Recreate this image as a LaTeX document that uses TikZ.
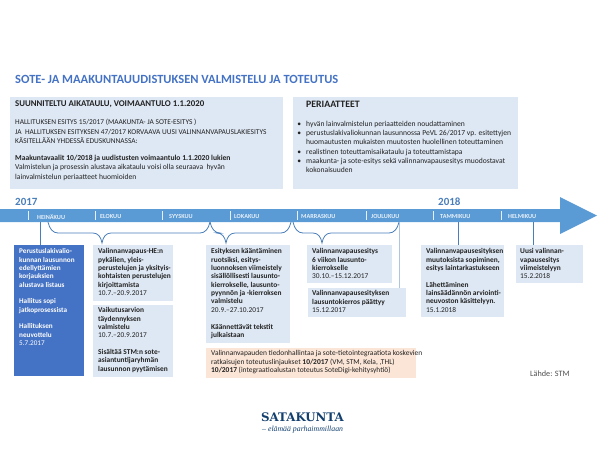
\documentclass[tikz,border=0pt]{standalone}
\usepackage{fontspec}
\setmainfont{Carlito}
\newfontfamily\logofont{DejaVu Serif}
\newfontfamily\taglinefont{Liberation Serif}
\definecolor{TitleBlue}{HTML}{4472C4}
\definecolor{ArrowBlue}{HTML}{5B9BD5}
\definecolor{BoxBlue}{HTML}{DEE8F4}
\definecolor{BoxOrange}{HTML}{FBE5D6}
\definecolor{BraceBlue}{HTML}{4A7EBB}
\definecolor{LogoNavy}{HTML}{123F6D}
\definecolor{BodyText}{HTML}{222222}
\tikzset{
	boxfill/.style={anchor=north west, inner sep=0pt, fill=BoxBlue},
	boxtext/.style={anchor=north west, inner sep=0pt, align=left, text=BodyText, font=\fontsize{7.4}{8.35}\selectfont},
	monthlabel/.style={anchor=west, inner sep=0pt, text=white!85!ArrowBlue, font=\fontsize{6.2}{7}\selectfont\bfseries},
	yearlabel/.style={anchor=west, inner sep=0pt, text=BraceBlue, font=\fontsize{11}{12}\selectfont\bfseries},
	stemline/.style={BraceBlue, line width=1pt}
}
\begin{document}
\begin{tikzpicture}[x=1pt,y=1pt,yscale=-1,xscale=1]
		\useasboundingbox (0,0) rectangle (600,450);

		% Title
		\node[anchor=west, inner sep=0pt, text=TitleBlue, font=\fontsize{12.5}{14}\selectfont\bfseries] (title) at (15,79) {SOTE- JA MAAKUNTAUUDISTUKSEN VALMISTELU JA TOTEUTUS};

		% Upper boxes
		\node[boxfill, minimum width=273pt, minimum height=92pt] (schedule) at (10,97) {};
		\node[boxfill, minimum width=225pt, minimum height=92pt] (principles) at (293,97) {};

		\node[boxtext, font=\fontsize{8.8}{10}\selectfont\bfseries] (scheduletitle) at (15,100.5) {SUUNNITELTU AIKATAULU, VOIMAANTULO 1.1.2020};
		\node[boxtext, font=\fontsize{7.4}{9.2}\selectfont] (scheduletext) at (15,119.2) {HALLITUKSEN ESITYS 15/2017 (MAAKUNTA- JA SOTE-ESITYS )\\
			JA~ HALLITUKSEN ESITYKSEN 47/2017 KORVAAVA UUSI VALINNANVAPAUSLAKIESITYS\\
			KÄSITELLÄÄN YHDESSÄ EDUSKUNNASSA:};
		\node[boxtext, font=\fontsize{7.6}{9.3}\selectfont] (schedulenote) at (15,155) {\textbf{Maakuntavaalit 10/2018 ja uudistusten voimaantulo 1.1.2020 lukien}\\
			Valmistelun ja prosessin alustava aikataulu voisi olla seuraava~ hyvän\\
			lainvalmistelun periaatteet huomioiden};

		\node[boxtext, font=\fontsize{9.8}{10}\selectfont\bfseries] (principlestitle) at (306,101) {PERIAATTEET};
		\node[boxtext, font=\fontsize{7.6}{9.25}\selectfont] (principlestext) at (306,121) {\llap{\textbullet\hspace{5pt}}hyvän lainvalmistelun periaatteiden noudattaminen\\
			\llap{\textbullet\hspace{5pt}}perustuslakivaliokunnan lausunnossa PeVL 26/2017 vp. esitettyjen\\
			huomautusten mukaisten muutosten huolellinen toteuttaminen\\
			\llap{\textbullet\hspace{5pt}}realistinen toteuttamisaikataulu ja toteuttamistapa\\
			\llap{\textbullet\hspace{5pt}}maakunta- ja sote-esitys sekä valinnanvapausesitys muodostavat\\
			kokonaisuuden};

		% Timeline arrow
		\fill[ArrowBlue] (0,209) -- (560,209) -- (560,197) -- (597,215.5) -- (560,234) -- (560,222) -- (0,222) -- cycle;

		\node[yearlabel] (year2017) at (15,202) {2017};
		\node[yearlabel] (year2018) at (438,202) {2018};

		% Months with their ticks
		\foreach \tickx/\labelx/\month in {28/37/HEINÄKUU, 95/100/ELOKUU, 162/169/SYYSKUU, 230/234/LOKAKUU, 297/301/MARRASKUU, 366/371/JOULUKUU, 433/440/TAMMIKUU, 501/508/HELMIKUU} {
			\draw[white!85!ArrowBlue, line width=1pt] (\tickx,211) -- (\tickx,220);
			\node[monthlabel] (\month) at (\labelx,216.5) {\month};
		}

		% Boxes below the timeline
		\node[boxfill, fill=TitleBlue, minimum width=69.5pt, minimum height=131pt] (hallitus) at (14,245) {};
		\node[boxfill, minimum width=80pt, minimum height=55.5pt] (pykalat) at (93,245) {};
		\node[boxfill, minimum width=80pt, minimum height=72pt] (vaikutus) at (93,305) {};
		\node[boxfill, minimum width=84pt, minimum height=98pt] (kaannos) at (206,245) {};
		\node[boxfill, minimum width=85pt, minimum height=38pt] (kierros) at (307,245) {};
		\node[boxfill, minimum width=98pt, minimum height=29pt] (paattyy) at (308,288) {};
		\node[boxfill, minimum width=83pt, minimum height=72pt] (muutokset) at (421,245) {};
		\node[boxfill, minimum width=67pt, minimum height=38pt] (viimeistely) at (516,245) {};
		\node[boxfill, fill=BoxOrange, minimum width=210pt, minimum height=30pt] (tiedonhallinta) at (206,348) {};

		% Braces from the timeline to the boxes
		\foreach \from/\tip/\to in {48/102/210, 210/226/291, 293/322/399} {
			\draw[BraceBlue, line width=0.8pt] (\from,222) .. controls (\from+1.5,229) and (\from+5,233) .. (\from+10,233) -- (\tip-9,233) .. controls (\tip-4,233) and (\tip-1,237) .. (\tip,243) .. controls (\tip+1,237) and (\tip+4,233) .. (\tip+9,233) -- (\to-10,233) .. controls (\to-5,233) and (\to-1.5,229) .. (\to,222);
		}

		% Straight stems
		\coordinate (stemheina) at (40,222);
		\coordinate (stemjoulu) at (399,222);
		\coordinate (stemtammi) at (458,222);
		\coordinate (stemhelmi) at (533,222);
		\draw[stemline] (stemheina) -- (stemheina |- hallitus.north);
		\draw[stemline, line width=0.6pt, BraceBlue!45] (stemjoulu) -- (stemjoulu |- paattyy.north);
		\draw[stemline] (stemtammi) -- (stemtammi |- muutokset.north);
		\draw[stemline] (stemhelmi) -- (stemhelmi |- viimeistely.north);

		% Box texts
		\node[boxtext, text=white, font=\fontsize{7.2}{8.35}\selectfont\bfseries] (hallitustext) at (19,248.5) {Perustuslakivalio-\\kunnan lausunnon\\edellyttämien\\korjauksien\\alustava listaus\\[8.35pt]Hallitus sopi\\jatkoprosessista\\[8.35pt]Hallituksen\\neuvottelu\\\mdseries 5.7.2017};
		\node[boxtext] (pykalattext) at (98,248.5) {\textbf{Valinnanvapaus-HE:n}\\\textbf{pykälien, yleis-}\\\textbf{perustelujen ja yksityis-}\\\textbf{kohtaisten perustelujen}\\\textbf{kirjoittamista}\\10.7.–20.9.2017};
		\node[boxtext] (vaikutustext) at (98,307.5) {\textbf{Vaikutusarvion}\\\textbf{täydennyksen}\\\textbf{valmistelu}\\10.7.–20.9.2017\\[8.35pt]\textbf{Sisältää STM:n sote-}\\\textbf{asiantuntijaryhmän}\\\textbf{lausunnon pyytämisen}};
		\node[boxtext] (kaannostext) at (211,248.5) {\textbf{Esityksen kääntäminen}\\\textbf{ruotsiksi, esitys-}\\\textbf{luonnoksen viimeistely}\\\textbf{sisällöllisesti lausunto-}\\\textbf{kierrokselle, lausunto-}\\\textbf{pyynnön ja -kierroksen}\\\textbf{valmistelu}\\20.9.–27.10.2017\\[8.35pt]\textbf{Käännettävät tekstit}\\\textbf{julkaistaan}};
		\node[boxtext] (kierrostext) at (312,248.5) {\textbf{Valinnanvapausesitys}\\\textbf{6 viikon lausunto-}\\\textbf{kierrokselle}\\30.10.–15.12.2017};
		\node[boxtext] (paattyytext) at (312,290.5) {\textbf{Valinnanvapausesityksen}\\\textbf{lausuntokierros päättyy}\\15.12.2017};
		\node[boxtext] (muutoksettext) at (426,248.5) {\textbf{Valinnanvapausesityksen}\\\textbf{muutoksista sopiminen,}\\\textbf{esitys laintarkastukseen}\\[8.35pt]\textbf{Lähettäminen}\\\textbf{lainsäädännön arviointi-}\\\textbf{neuvoston käsittelyyn.}\\15.1.2018};
		\node[boxtext] (viimeistelytext) at (520,248.5) {\textbf{Uusi valinnan-}\\\textbf{vapausesitys}\\\textbf{viimeistelyyn}\\15.2.2018};
		\node[boxtext, font=\fontsize{7.45}{8.35}\selectfont] (tiedonhallintatext) at (211,350.5) {Valinnanvapauden tiedonhallintaa ja sote-tietointegraatiota koskevien\\ratkaisujen toteutuslinjaukset \textbf{10/2017} (VM, STM, Kela, ,THL)\\\textbf{10/2017} (integraatioalustan toteutus SoteDigi-kehitysyhtiö)};

		% Source and logo
		\node[anchor=west, inner sep=0pt, text=BodyText!80, font=\fontsize{8.2}{9}\selectfont] (source) at (530,373.5) {Lähde: STM};
		\node[anchor=west, inner sep=0pt, text=LogoNavy, font=\fontsize{11.8}{14}\logofont\bfseries] (logo) at (261,417.5) {SATAKUNTA};
		\node[anchor=west, inner sep=0pt, text=LogoNavy, font=\fontsize{7.8}{9}\taglinefont\itshape] (tagline) at (262,430) {– elämää parhaimmillaan};
	\end{tikzpicture}
\end{document}
